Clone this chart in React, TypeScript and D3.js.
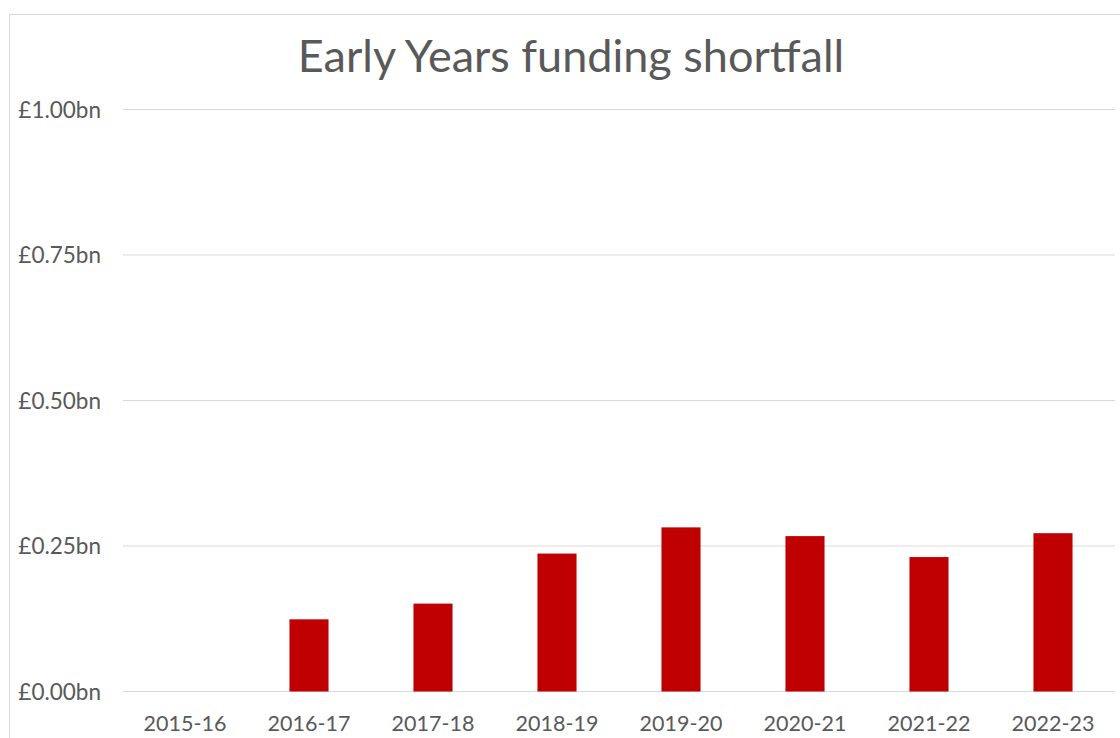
import React from 'react';
import * as d3 from 'd3';

const categories = ['2015-16', '2016-17', '2017-18', '2018-19', '2019-20', '2020-21', '2021-22', '2022-23'];
const shortfall = [0, 0.124, 0.151, 0.237, 0.282, 0.267, 0.231, 0.272];
const yTicks = [0, 0.25, 0.5, 0.75, 1.0];

const WIDTH = 1120;
const HEIGHT = 738;
const MARGIN = { top: 109.5, right: 5, bottom: 46.5, left: 123 };
const FONT = 'Lato, "Open Sans", sans-serif';
const TEXT_COLOR = '#595959';

export default function App() {
  const boundsWidth = WIDTH - MARGIN.left - MARGIN.right;
  const boundsHeight = HEIGHT - MARGIN.top - MARGIN.bottom;

  const xScale = d3
    .scaleBand()
    .domain(categories)
    .range([0, boundsWidth])
    .paddingInner(0.685)
    .paddingOuter(0.3425);

  const yScale = d3.scaleLinear().domain([0, 1]).range([boundsHeight, 0]);

  const fmt = (v: number) => '£' + d3.format('.2f')(v) + 'bn';

  return (
    <svg
      width={WIDTH}
      height={HEIGHT}
      style={{ position: 'absolute', left: 0, top: 0, background: '#fff' }}
    >
      {/* chart area border */}
      <line x1={9.5} x2={9.5} y1={14} y2={HEIGHT} stroke="#d9d9d9" />
      <line x1={9.5} x2={WIDTH} y1={14.5} y2={14.5} stroke="#d9d9d9" />

      <text
        x={571}
        y={72}
        textAnchor="middle"
        fontFamily={FONT}
        fontSize={45}
        fill={TEXT_COLOR}
      >
        Early Years funding shortfall
      </text>

      <g transform={`translate(${MARGIN.left},${MARGIN.top})`}>
        {yTicks.map((t) => (
          <g key={t}>
            <line
              x1={0}
              x2={boundsWidth}
              y1={yScale(t)}
              y2={yScale(t)}
              stroke="#d9d9d9"
              strokeWidth={1}
            />
            <text
              x={-22}
              y={yScale(t) + 8}
              textAnchor="end"
              fontFamily={FONT}
              fontSize={22.5}
              fill={TEXT_COLOR}
            >
              {fmt(t)}
            </text>
          </g>
        ))}

        {categories.map((c, i) => {
          const x = xScale(c) ?? 0;
          const v = shortfall[i];
          return (
            <g key={c}>
              {v > 0 && (
                <rect
                  x={x}
                  y={yScale(v)}
                  width={xScale.bandwidth()}
                  height={yScale(0) - yScale(v)}
                  fill="#c00000"
                />
              )}
              <text
                x={x + xScale.bandwidth() / 2}
                y={boundsHeight + 39.5}
                textAnchor="middle"
                fontFamily={FONT}
                fontSize={21.5}
                fill={TEXT_COLOR}
              >
                {c}
              </text>
            </g>
          );
        })}
      </g>
    </svg>
  );
}
